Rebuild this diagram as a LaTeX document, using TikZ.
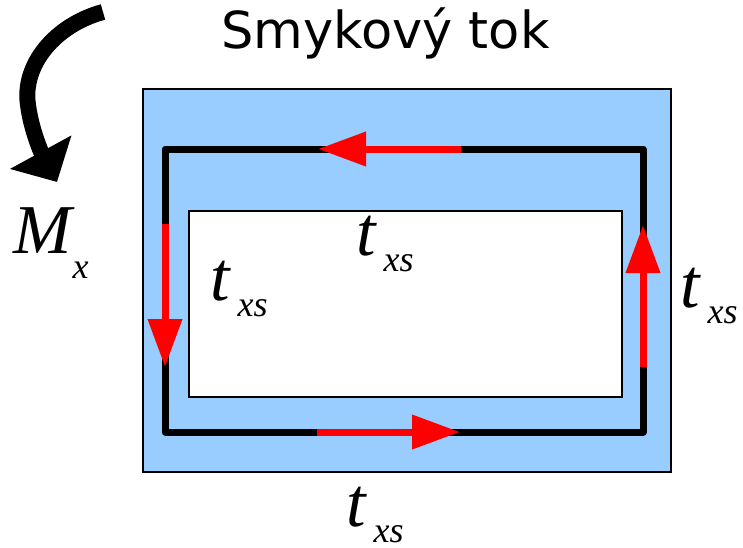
\documentclass[tikz,border=0pt]{standalone}
\usepackage{fontspec}
\setmainfont{Liberation Serif}
\newfontfamily\titlefont{DejaVu Sans}
\usetikzlibrary{arrows.meta}

% label with a lowered subscript
\newcommand{\txs}{t\hspace{8pt}\raisebox{-16pt}{\fontsize{36}{40}\selectfont\itshape xs}}

\definecolor{wallblue}{HTML}{99CCFF}

\begin{document}
\begin{tikzpicture}[x=1pt,y=-1pt]
  \useasboundingbox (0,0) rectangle (743,547);
  \tikzset{flow/.style={red, line width=7pt, -{Triangle[length=48pt,width=33pt]}},
    tlabel/.style={inner sep=0pt, anchor=base west, font=\fontsize{70}{80}\selectfont\itshape}}

% cross section
  \draw[line width=2pt, fill=wallblue] (143,89) rectangle (671,472);
  \draw[line width=2pt, fill=white] (189,211) rectangle (622,397);

% shear flow path
  \draw[line width=7pt, line join=round] (165,149) rectangle (643,432);
  \draw[flow] (461,149) -- (318,149);
  \draw[flow] (165,224) -- (165,367);
  \draw[flow] (317,432) -- (460,432);
  \draw[flow] (643,367) -- (643,225);

% moment
  \draw[line width=16pt, -{Triangle[length=34pt,width=68pt]}]
    (103,12) .. controls (55,25) and (22,65) .. (28,105)
    .. controls (32,135) and (45,160) .. (57,182);

%labels
  \node[inner sep=0pt, anchor=base west, font=\titlefont\fontsize{51}{60}\selectfont] (title) at (221,48) {Smykový tok};
  \node[tlabel] (mx) at (13,253) {M\hspace{1pt}\raisebox{-25pt}{\fontsize{36}{40}\selectfont\itshape x}};
  \node[tlabel] (ttop) at (356,255) {\txs};
  \node[tlabel] (tleft) at (210,300) {\txs};
  \node[tlabel] (tright) at (680,307) {\txs};
  \node[tlabel] (tbottom) at (346,526) {\txs};

\end{tikzpicture}
\end{document}
